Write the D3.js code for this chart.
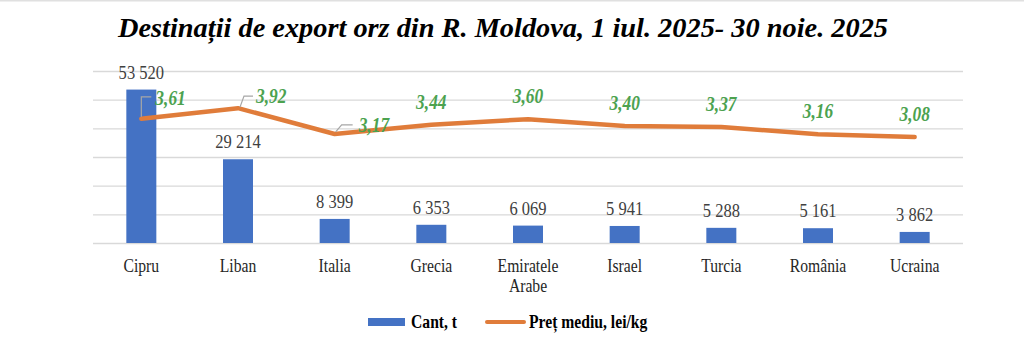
<!DOCTYPE html>
<html><head><meta charset="utf-8">
<script src="https://cdn.jsdelivr.net/npm/d3@7"></script>
<style>
html,body{margin:0;padding:0;background:#fff;}
svg{display:block;font-family:"Liberation Serif","Times New Roman",serif;}
</style></head>
<body>
<svg id="chart" width="1024" height="350"></svg>
<script>
const title = "Destinații de export orz din R. Moldova, 1 iul. 2025- 30 noie. 2025";
const categories = ["Cipru","Liban","Italia","Grecia","Emiratele Arabe","Israel","Turcia","România","Ucraina"];
const quantities = [53520, 29214, 8399, 6353, 6069, 5941, 5288, 5161, 3862];
const prices = [3.61, 3.92, 3.17, 3.44, 3.60, 3.40, 3.37, 3.16, 3.08];
const leftTicks = [0, 10000, 20000, 30000, 40000, 50000, 60000];
const seriesNames = ["Cant, t", "Preț mediu, lei/kg"];

const svg = d3.select("#chart");
const W = 1024, H = 350;
const m = {left: 93, right: 61, top: 71, bottom: 107};
const pw = W - m.left - m.right, ph = H - m.top - m.bottom;
const SX = 0.87; // horizontal squeeze of the text in the reference

const barColor = "#4472C4", lineColor = "#E07C3A", green = "#4CA24F", grid = "#d9d9d9";

function txt(parent, x, y, s, size, opts = {}) {
  const t = parent.append("text")
    .attr("transform", `translate(${x},${y}) scale(${SX},1)`)
    .attr("font-size", size)
    .attr("text-anchor", opts.anchor || "start")
    .attr("fill", opts.fill || "#000");
  if (opts.bold) t.attr("font-weight", "bold");
  if (opts.italic) t.attr("font-style", "italic");
  t.text(s);
  return t;
}

// top frame line
svg.append("line").attr("x1",0).attr("x2",W).attr("y1",0.5).attr("y2",0.5).attr("stroke","#e0e0e0").attr("stroke-width",2);

// title
svg.append("text").attr("x", 503).attr("y", 37).attr("text-anchor","middle")
  .attr("font-size", 28).attr("font-weight","bold").attr("font-style","italic").attr("fill","#000")
  .attr("textLength", 770).attr("lengthAdjust","spacingAndGlyphs")
  .text(title);

const g = svg.append("g").attr("transform", `translate(${m.left},${m.top})`);

const x = d3.scaleBand().domain(categories).range([0, pw]).padding(0);
const yL = d3.scaleLinear().domain([0, 60000]).range([ph, 0]);
const yR = d3.scaleLinear().domain([0, 5]).range([ph, 0]);

// gridlines via axis
const ga = g.append("g").call(d3.axisLeft(yL).tickValues(leftTicks).tickSize(-pw).tickFormat(""));
ga.select(".domain").remove();
ga.selectAll(".tick line").attr("stroke", grid).attr("stroke-width", 1.3);

// bars
const bw = 30;
const cx = d => x(d) + x.bandwidth()/2;
g.selectAll("rect.bar").data(categories).join("rect").attr("class","bar")
  .attr("x", d => cx(d) - bw/2)
  .attr("y", (d,i) => yL(quantities[i]))
  .attr("width", bw)
  .attr("height", (d,i) => ph - yL(quantities[i]))
  .attr("fill", barColor);

// bar value labels
const fmt = v => d3.format(",")(v).replace(/,/g, " ");
categories.forEach((c, i) => {
  txt(g, cx(c), yL(quantities[i]) - 11, fmt(quantities[i]), 19, {anchor: "middle", fill: "#404040"});
});

// line
const line = d3.line().x(d => cx(d)).y((d,i) => yR(prices[i]));
g.append("path").datum(categories).attr("d", line)
  .attr("fill","none").attr("stroke", lineColor).attr("stroke-width", 4.5)
  .attr("stroke-linejoin","round").attr("stroke-linecap","round");

// price labels; first three sit to the right with a leader line
const pf = v => v.toFixed(2).replace(".", ",");
const leaders = {
  0: {pts: [[0,-2],[0,-22],[10,-22]], lab: [14, -14]},
  1: {pts: [[2,-1],[6,-12],[15,-12]], lab: [18, -5]},
  2: {pts: [[1,-2],[7,-9],[18,-9]], lab: [24, -2]}
};
categories.forEach((c, i) => {
  const px = cx(c), py = yR(prices[i]);
  const L = leaders[i];
  if (L) {
    g.append("path")
      .attr("d", "M" + L.pts.map(p => `${px+p[0]},${py+p[1]}`).join(" L"))
      .attr("fill","none").attr("stroke","#a6a6a6").attr("stroke-width",1.2);
    txt(g, px + L.lab[0], py + L.lab[1], pf(prices[i]), 20, {bold: true, italic: true, fill: green});
  } else {
    txt(g, px, py - 16, pf(prices[i]), 20, {anchor: "middle", bold: true, italic: true, fill: green});
  }
});

// category axis labels with wrapping
categories.forEach(c => {
  const tx = txt(g, cx(c), ph + 29, c, 18, {anchor: "middle", fill: "#262626"});
  if (tx.node().getComputedTextLength() * SX > x.bandwidth() * 0.9) {
    const words = c.split(" ");
    tx.text(null);
    words.forEach((w, k) => tx.append("tspan").attr("x", 0).attr("dy", k ? 20 : 0).text(w));
  }
});

// legend
const lg = svg.append("g");
lg.append("rect").attr("x", 368).attr("y", 318).attr("width", 37).attr("height", 8).attr("fill", barColor);
txt(lg, 411, 328, seriesNames[0], 18, {bold: true});
lg.append("line").attr("x1", 487).attr("x2", 524).attr("y1", 322).attr("y2", 322).attr("stroke", lineColor).attr("stroke-width", 4).attr("stroke-linecap","round");
txt(lg, 529, 328, seriesNames[1], 18, {bold: true});
</script>
</body></html>
